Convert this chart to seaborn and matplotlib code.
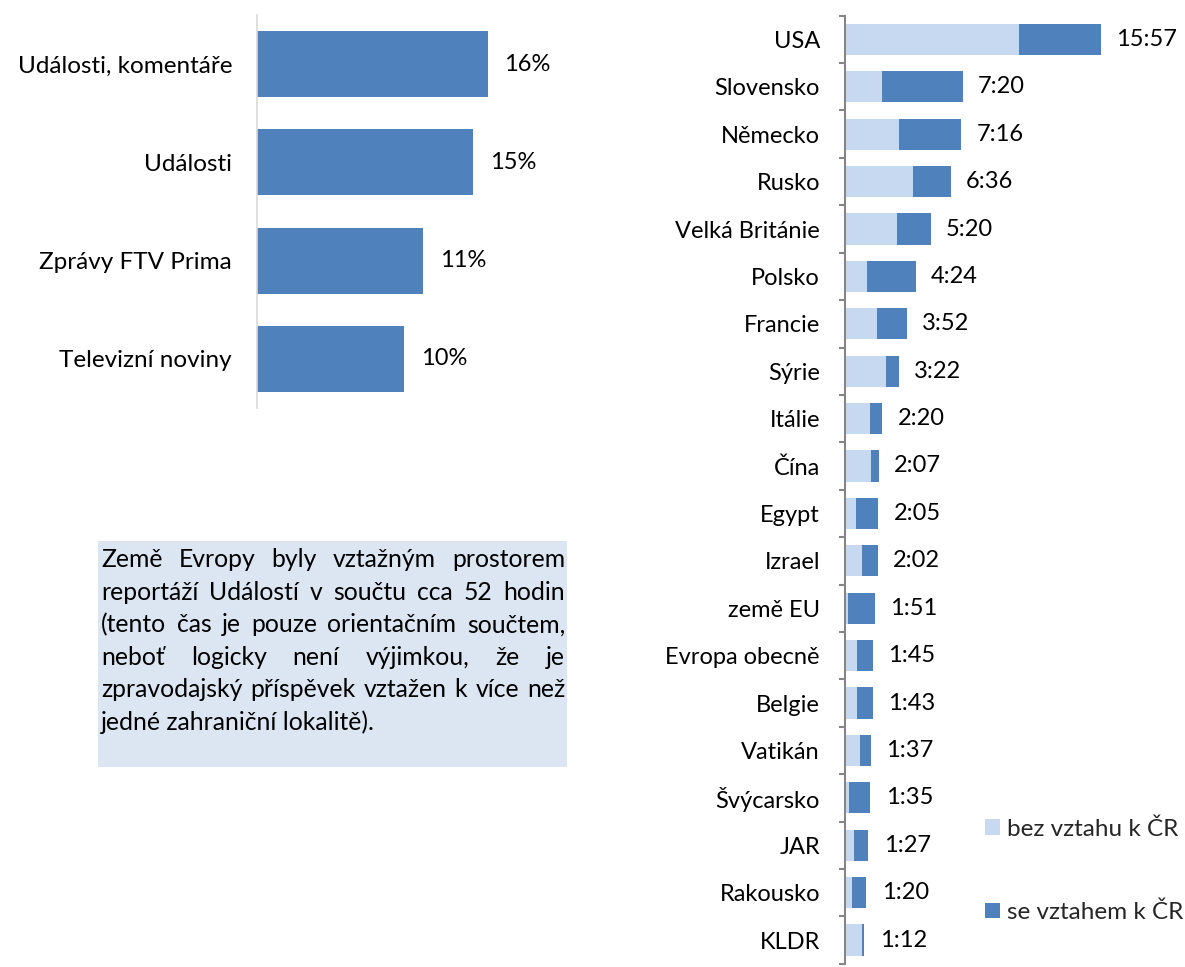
import matplotlib
matplotlib.use("Agg")
import matplotlib.pyplot as plt
import seaborn as sns
import numpy as np
from matplotlib.patches import Rectangle, Patch

sns.set_theme(style="white")
plt.rcParams['font.family'] = ['Lato', 'DejaVu Sans']

# ---------------- data ----------------
programs = ["Události, komentáře", "Události", "Zprávy FTV Prima", "Televizní noviny"]
shares = [15.7, 14.7, 11.3, 10.0]

countries = ["USA", "Slovensko", "Německo", "Rusko", "Velká Británie", "Polsko",
             "Francie", "Sýrie", "Itálie", "Čína", "Egypt", "Izrael", "země EU",
             "Evropa obecně", "Belgie", "Vatikán", "Švýcarsko", "JAR", "Rakousko", "KLDR"]
# minutes
bez_vztahu = [650, 137, 201, 256, 196, 81, 119, 152, 92, 97, 41, 64, 10, 44, 46, 56, 15, 34, 25, 65]
se_vztahem = [307, 303, 235, 140, 124, 183, 113, 50, 48, 30, 84, 58, 101, 61, 57, 41, 80, 53, 55, 7]
series_names = ["bez vztahu k ČR", "se vztahem k ČR"]

box_lines = ["Země Evropy byly vztažným prostorem",
             "reportáží Událostí v součtu cca 52 hodin",
             "(tento čas je pouze orientačním součtem,",
             "neboť logicky není výjimkou, že je",
             "zpravodajský příspěvek vztažen k více než",
             "jedné zahraniční lokalitě)."]

DARK = "#4f81bd"
LIGHT = "#c6d9f1"
FS = 17

W, H = 1185, 967
fig = plt.figure(figsize=(W / 100, H / 100), dpi=100)
fig.patch.set_facecolor("white")

def frac(x0, y0, x1, y1):
    return [x0 / W, 1 - y1 / H, (x1 - x0) / W, (y1 - y0) / H]

# ---------------- left chart ----------------
ax1 = fig.add_axes(frac(257, 15, 600, 408))
sns.barplot(x=shares, y=programs, orient="h", color=DARK, saturation=1,
            width=0.67, linewidth=0, ax=ax1, legend=False)
ax1.set_xlim(0, 343 / 14.7)
ax1.set_ylim(3.5, -0.5)
ax1.bar_label(ax1.containers[0], labels=[f"{v:.0f}%" for v in shares],
              padding=12, fontsize=FS, color="black")
ax1.set_xticks([])
ax1.tick_params(axis="y", length=0, pad=18, labelsize=FS + 0.5, labelcolor="black")
ax1.set_xlabel("")
ax1.set_ylabel("")
for s in ["top", "right", "bottom"]:
    ax1.spines[s].set_visible(False)
ax1.spines["left"].set_color("#d9d9d9")
ax1.spines["left"].set_linewidth(1.2)
ax1.patch.set_alpha(0)

# ---------------- right chart ----------------
totals = [a + b for a, b in zip(bez_vztahu, se_vztahem)]
ax2 = fig.add_axes(frac(845, 15.7, 1145, 963.7))
sns.barplot(x=totals, y=countries, orient="h", color=DARK, saturation=1,
            width=0.66, linewidth=0, ax=ax2, legend=False)
sns.barplot(x=bez_vztahu, y=countries, orient="h", color=LIGHT, saturation=1,
            width=0.66, linewidth=0, ax=ax2, legend=False)
ax2.set_xlim(0, 300 / 0.2672)
ax2.set_ylim(len(countries) - 0.5, -0.5)
ax2.bar_label(ax2.containers[0], labels=[f"{t // 60}:{t % 60:02d}" for t in totals],
              padding=11, fontsize=FS, color="black")
ax2.set_xticks([])
ax2.set_xlabel("")
ax2.set_ylabel("")
ax2.tick_params(axis="y", which="major", length=0, pad=18, labelsize=FS, labelcolor="black")
ax2.set_yticks(np.arange(-0.5, len(countries), 1), minor=True)
ax2.tick_params(axis="y", which="minor", length=4.5, width=1.5, color="#868686",
                direction="out", left=True)
for s in ["top", "right", "bottom"]:
    ax2.spines[s].set_visible(False)
ax2.spines["left"].set_color("#868686")
ax2.spines["left"].set_linewidth(1.5)
ax2.patch.set_alpha(0)
if ax2.get_legend() is not None:
    ax2.get_legend().remove()

handles = [Patch(facecolor=LIGHT, edgecolor="none"), Patch(facecolor=DARK, edgecolor="none")]
fig.legend(handles, series_names, loc="upper left", bbox_to_anchor=(985 / W, 1 - 818 / H),
           frameon=False, fontsize=FS + 0.5, handlelength=0.62, handleheight=0.62,
           handletextpad=0.3, labelspacing=2.55, borderaxespad=0, borderpad=0)

# ---------------- text box ----------------
fig.patches.append(Rectangle((98 / W, 1 - 767 / H), (567 - 98) / W, (767 - 541) / H,
                             transform=fig.transFigure, facecolor="#dce6f2",
                             edgecolor="none", zorder=0))
renderer = fig.canvas.get_renderer()
x_left, x_right = 101, 565
BFS = 17.8
baselines = [567 + 32.6 * i for i in range(len(box_lines))]
for i, (line, yb) in enumerate(zip(box_lines, baselines)):
    if i == len(box_lines) - 1:
        fig.text(x_left / W, 1 - yb / H, line, fontsize=BFS, va="baseline", ha="left",
                 color="black")
        continue
    words = line.split(" ")
    texts = [fig.text(0, 1 - yb / H, w, fontsize=BFS, va="baseline", ha="left", color="black")
             for w in words]
    widths = [t.get_window_extent(renderer).width for t in texts]
    gap = (x_right - x_left - sum(widths)) / (len(words) - 1)
    x = x_left
    for t, w in zip(texts, widths):
        t.set_x(x / W)
        x += w + gap

fig.savefig("out.png", dpi=100, facecolor="white")
